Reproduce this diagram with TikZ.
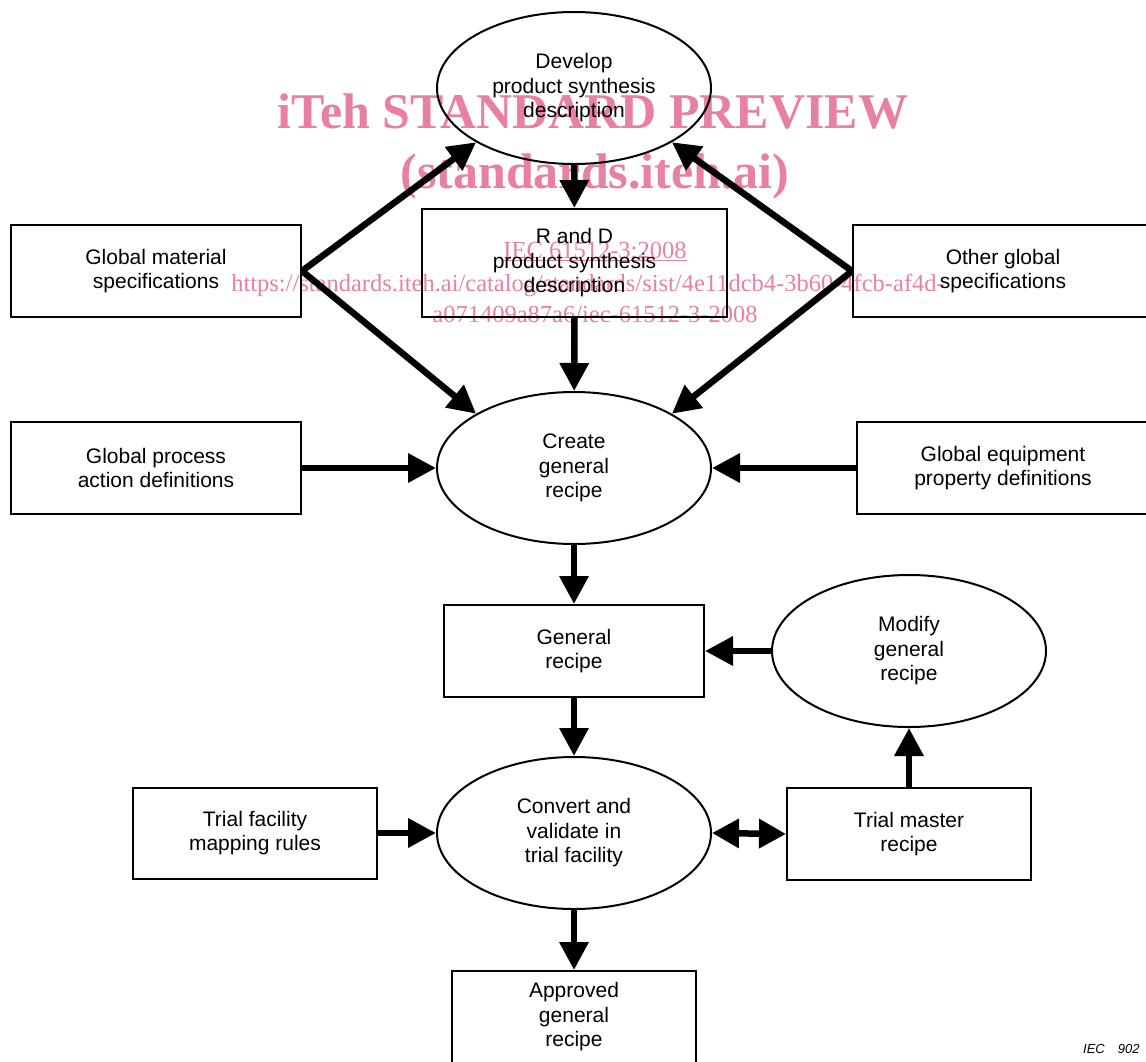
\documentclass[tikz,border=0pt]{standalone}
\usepackage{fontspec}
\setmainfont{Liberation Sans}
\newfontfamily\wmserif{Liberation Serif}
\usetikzlibrary{shapes.geometric,arrows.meta}
\definecolor{wmpink}{RGB}{232,128,162}
\tikzset{
  txt/.style={font={\fontsize{21pt}{24.5pt}\selectfont}, align=center},
  box/.style={txt, draw, rectangle, line width=2pt, inner sep=0pt},
  oval/.style={txt, draw, ellipse, line width=2pt, inner sep=0pt,
               minimum width=274pt, minimum height=152pt},
  arr/.style={line width=6.5pt, -{Triangle[length=28pt,width=28pt]}},
  dblarr/.style={line width=6.5pt, {Triangle[length=27pt,width=28pt]}-{Triangle[length=27pt,width=28pt]}},
  wmbig/.style={text=wmpink, anchor=base, inner sep=0pt,
                font={\wmserif\bfseries\fontsize{50pt}{50pt}\selectfont}},
  wmsmall/.style={text=wmpink, anchor=base, inner sep=0pt,
                font={\wmserif\fontsize{24.5pt}{24.5pt}\selectfont}},
}
\begin{document}
\begin{tikzpicture}[x=1pt,y=-1pt]
\path[use as bounding box] (0,0) rectangle (1146,1061);
\clip (0,0) rectangle (1146,1061);

% watermark (behind)
\node[wmbig] (wm1) at (593,128) {iTeh STANDARD PREVIEW};
\node[wmbig] (wm2) at (595,188) {(standards.iteh.ai)};
\node[wmsmall] (wm3) at (595,258) {\underline{IEC 61512-3:2008}};
\node[wmsmall] (wm4) at (588,291) {https://standards.iteh.ai/catalog/standards/sist/4e11dcb4-3b60-4fcb-af4d-};
\node[wmsmall] (wm5) at (595,322) {a071409a87a6/iec-61512-3-2008};

% nodes
\node[oval] (dev) at (574,88) {Develop\\product synthesis\\description};
\node[box, minimum width=305pt, minimum height=108pt] (rnd) at (574.5,263) {R and D\\product synthesis\\description};
\node[box, minimum width=290pt, minimum height=92pt] (gms) at (156,271) {Global material\\specifications};
\node[box, minimum width=300pt, minimum height=92pt] (ogs) at (1003,271) {Other global\\specifications};
\node[oval] (create) at (574,468) {Create\\general\\recipe};
\node[box, minimum width=290pt, minimum height=92pt] (gpa) at (156,468) {Global process\\action definitions};
\node[box, minimum width=292pt, minimum height=92pt] (gepd) at (1003,468) {Global equipment\\property definitions};
\node[box, minimum width=260pt, minimum height=92pt] (gr) at (574,651) {General\\recipe};
\node[oval] (mod) at (909,651) {Modify\\general\\recipe};
\node[oval] (conv) at (574,833) {Convert and\\validate in\\trial facility};
\node[box, minimum width=244pt, minimum height=91pt] (tfm) at (255,833) {Trial facility\\mapping rules};
\node[box, minimum width=244pt, minimum height=92pt] (tmr) at (909,834) {Trial master\\recipe};
\node[box, minimum width=244pt, minimum height=92pt] (appr) at (574,1017) {Approved\\general\\recipe};
\node[font={\fontsize{13pt}{15pt}\selectfont\itshape}, anchor=base west, inner sep=0pt] (iec) at (1083,1053) {IEC\hspace{13pt}902};

% connectors
\draw[arr] (gms.east) -- (dev.209);
\draw[arr] (gms.east) -- (create.151);
\draw[arr] (ogs.west) -- (dev.331);
\draw[arr] (ogs.west) -- (create.29);
\draw[arr] (dev) -- (rnd);
\draw[arr] (rnd) -- (create);
\draw[arr] (gpa.east) -- (create.west);
\draw[arr] (gepd.west) -- (create.east);
\draw[arr] (create) -- (gr);
\draw[arr] (mod.west) -- (gr.east);
\draw[arr] (gr) -- (conv);
\draw[arr] (tfm.east) -- (conv.west);
\draw[dblarr] (conv.east) -- (tmr.west);
\draw[arr] (tmr) -- (mod);
\draw[arr] (conv) -- (appr);
\end{tikzpicture}
\end{document}
